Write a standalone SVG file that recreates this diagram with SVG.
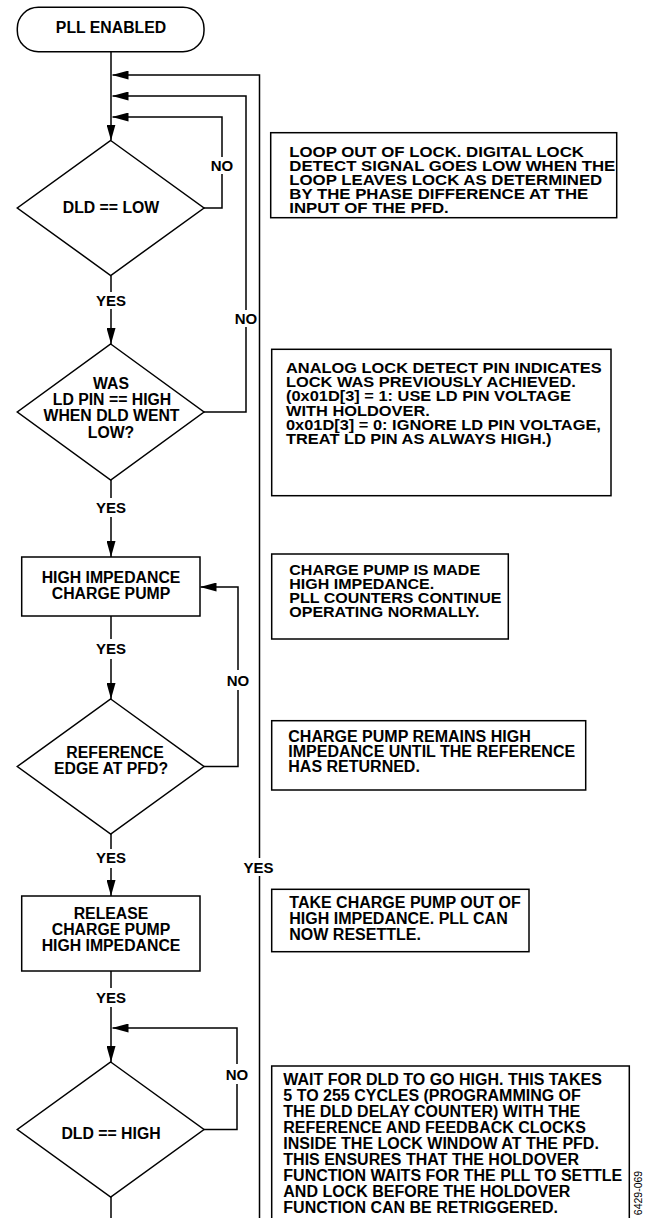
<svg xmlns="http://www.w3.org/2000/svg" width="648" height="1218" viewBox="0 0 648 1218">
<style>
  .shape{fill:#fff;stroke:#000;stroke-width:1.5}
  .conn{fill:none;stroke:#000;stroke-width:1.5}
  .t{font-family:"Liberation Sans",Arial,Helvetica,sans-serif;font-weight:bold;fill:#000}
  .flow{font-size:15.8px;text-anchor:middle}
  .lbl{font-size:15px;text-anchor:middle}
  .note{font-size:16px}
  .tight{font-size:15px}
  .fig{font-family:"Liberation Sans",Arial,sans-serif;font-size:10.5px;fill:#000;text-anchor:middle}
</style>
<defs>
  <marker id="ah" viewBox="0 0 16 9" refX="16" refY="4.5" markerWidth="16" markerHeight="9" markerUnits="userSpaceOnUse" orient="auto">
    <path d="M0,0 L16,4.5 L0,9 z" fill="#000"/>
  </marker>
</defs>
<rect width="648" height="1218" fill="#fff"/>

<g id="connectors">
  <path class="conn" d="M111,52 V140.5" marker-end="url(#ah)"/>
  <path class="conn" d="M204,208 H222 V174"/>
  <path class="conn" d="M222,157 V117 H112.5" marker-end="url(#ah)"/>
  <path class="conn" d="M111,275.5 V292"/>
  <path class="conn" d="M111,309 V344" marker-end="url(#ah)"/>
  <path class="conn" d="M204,412 H246 V327"/>
  <path class="conn" d="M246,310 V96 H112.5" marker-end="url(#ah)"/>
  <path class="conn" d="M111,480 V498"/>
  <path class="conn" d="M111,517 V557" marker-end="url(#ah)"/>
  <path class="conn" d="M111,616 V639"/>
  <path class="conn" d="M111,659 V699" marker-end="url(#ah)"/>
  <path class="conn" d="M204,766.5 H238 V690"/>
  <path class="conn" d="M238,670 V587 H200.5" marker-end="url(#ah)"/>
  <path class="conn" d="M111,834 V849"/>
  <path class="conn" d="M111,868 V896" marker-end="url(#ah)"/>
  <path class="conn" d="M111,971 V988"/>
  <path class="conn" d="M111,1007 V1062" marker-end="url(#ah)"/>
  <path class="conn" d="M204,1129.5 H237 V1084"/>
  <path class="conn" d="M237,1064 V1028 H112.5" marker-end="url(#ah)"/>
  <path class="conn" d="M111,1197 V1218"/>
  <path class="conn" d="M259.5,1218 V876"/>
  <path class="conn" d="M259.5,858 V75 H112.5" marker-end="url(#ah)"/>
  <text class="t lbl" x="222" y="170.5">NO</text>
  <text class="t lbl" x="111" y="306">YES</text>
  <text class="t lbl" x="246" y="323.5">NO</text>
  <text class="t lbl" x="111" y="513">YES</text>
  <text class="t lbl" x="111" y="654">YES</text>
  <text class="t lbl" x="238" y="686">NO</text>
  <text class="t lbl" x="111" y="863">YES</text>
  <text class="t lbl" x="258.5" y="873">YES</text>
  <text class="t lbl" x="111" y="1003">YES</text>
  <text class="t lbl" x="237" y="1080">NO</text>
</g>

<g id="pll-enabled">
  <rect class="shape" x="17.3" y="7.3" width="186.7" height="44.4" rx="21" ry="21"/>
  <text class="t flow" x="111" y="33.3">PLL ENABLED</text>
</g>

<g id="dld-low">
  <polygon class="shape" points="110.7,140.5 204,208 110.7,275.5 17.3,208"/>
  <text class="t flow" x="111" y="213.3">DLD == LOW</text>
</g>

<g id="was-ld-pin">
  <polygon class="shape" points="110.7,344 204,412 110.7,480 17.3,412"/>
  <text class="t flow"><tspan x="111" y="388.5">WAS</tspan><tspan x="112" y="405">LD PIN == HIGH</tspan><tspan x="111.5" y="421.3">WHEN DLD WENT</tspan><tspan x="111" y="437.5">LOW?</tspan></text>
</g>

<g id="high-impedance">
  <rect class="shape" x="21.7" y="557" width="178.3" height="59"/>
  <text class="t flow"><tspan x="111" y="583.3">HIGH IMPEDANCE</tspan><tspan x="111" y="599.3">CHARGE PUMP</tspan></text>
</g>

<g id="reference-edge">
  <polygon class="shape" points="110.7,699 204,766.5 110.7,834 17.3,766.5"/>
  <text class="t flow"><tspan x="115" y="758.3">REFERENCE</tspan><tspan x="111" y="774">EDGE AT PFD?</tspan></text>
</g>

<g id="release">
  <rect class="shape" x="21.7" y="896" width="178.3" height="75"/>
  <text class="t flow"><tspan x="111" y="919">RELEASE</tspan><tspan x="111" y="934.8">CHARGE PUMP</tspan><tspan x="111" y="950.7">HIGH IMPEDANCE</tspan></text>
</g>

<g id="dld-high">
  <polygon class="shape" points="110.7,1062 204,1129.5 110.7,1197 17.3,1129.5"/>
  <text class="t flow" x="111" y="1139.3">DLD == HIGH</text>
</g>

<g id="note-1">
  <rect class="shape" x="270.7" y="132.7" width="346" height="85"/>
  <text class="t tight" transform="matrix(1.12,0,0,1,-34.716,0)"><tspan x="289.3" y="157.3">LOOP OUT OF LOCK. DIGITAL LOCK</tspan><tspan x="289.3" y="171.2">DETECT SIGNAL GOES LOW WHEN THE</tspan><tspan x="289.3" y="185.1">LOOP LEAVES LOCK AS DETERMINED</tspan><tspan x="289.3" y="199">BY THE PHASE DIFFERENCE AT THE</tspan><tspan x="289.3" y="213">INPUT OF THE PFD.</tspan></text>
</g>

<g id="note-2">
  <rect class="shape" x="271.7" y="349.3" width="339.3" height="146.4"/>
  <text class="t tight" transform="matrix(1.093,0,0,1,-26.598,0)"><tspan x="286" y="373.3">ANALOG LOCK DETECT PIN INDICATES</tspan><tspan x="286" y="387.4">LOCK WAS PREVIOUSLY ACHIEVED.</tspan><tspan x="286" y="401.5">(0x01D[3] = 1: USE LD PIN VOLTAGE</tspan><tspan x="286" y="415.6">WITH HOLDOVER.</tspan><tspan x="286" y="429.7">0x01D[3] = 0: IGNORE LD PIN VOLTAGE,</tspan><tspan x="286" y="443.8">TREAT LD PIN AS ALWAYS HIGH.)</tspan></text>
</g>

<g id="note-3">
  <rect class="shape" x="271.7" y="554" width="236.6" height="85"/>
  <text class="t tight" transform="matrix(1.067,0,0,1,-19.383,0)"><tspan x="289.3" y="575">CHARGE PUMP IS MADE</tspan><tspan x="289.3" y="589.2">HIGH IMPEDANCE.</tspan><tspan x="289.3" y="603.3">PLL COUNTERS CONTINUE</tspan><tspan x="289.3" y="617.5">OPERATING NORMALLY.</tspan></text>
</g>

<g id="note-4">
  <rect class="shape" x="271.7" y="720.7" width="314" height="69.3"/>
  <text class="t note"><tspan x="288.3" y="741.7">CHARGE PUMP REMAINS HIGH</tspan><tspan x="288.3" y="756.7">IMPEDANCE UNTIL THE REFERENCE</tspan><tspan x="288.3" y="771.7">HAS RETURNED.</tspan></text>
</g>

<g id="note-5">
  <rect class="shape" x="271.7" y="889.3" width="257.3" height="62.4"/>
  <text class="t note"><tspan x="289.3" y="908.3">TAKE CHARGE PUMP OUT OF</tspan><tspan x="289.3" y="924.2">HIGH IMPEDANCE. PLL CAN</tspan><tspan x="289.3" y="940">NOW RESETTLE.</tspan></text>
</g>

<g id="note-6">
  <rect class="shape" x="271.7" y="1066" width="357.6" height="160"/>
  <text class="t note"><tspan x="283.3" y="1085">WAIT FOR DLD TO GO HIGH. THIS TAKES</tspan><tspan x="283.3" y="1101">5 TO 255 CYCLES (PROGRAMMING OF</tspan><tspan x="283.3" y="1117">THE DLD DELAY COUNTER) WITH THE</tspan><tspan x="283.3" y="1133">REFERENCE AND FEEDBACK CLOCKS</tspan><tspan x="283.3" y="1149">INSIDE THE LOCK WINDOW AT THE PFD.</tspan><tspan x="283.3" y="1165">THIS ENSURES THAT THE HOLDOVER</tspan><tspan x="283.3" y="1181">FUNCTION WAITS FOR THE PLL TO SETTLE</tspan><tspan x="283.3" y="1197">AND LOCK BEFORE THE HOLDOVER</tspan><tspan x="283.3" y="1213">FUNCTION CAN BE RETRIGGERED.</tspan></text>
</g>

<text class="fig" transform="translate(641.5,1193) rotate(-90)">6429-069</text>
</svg>
